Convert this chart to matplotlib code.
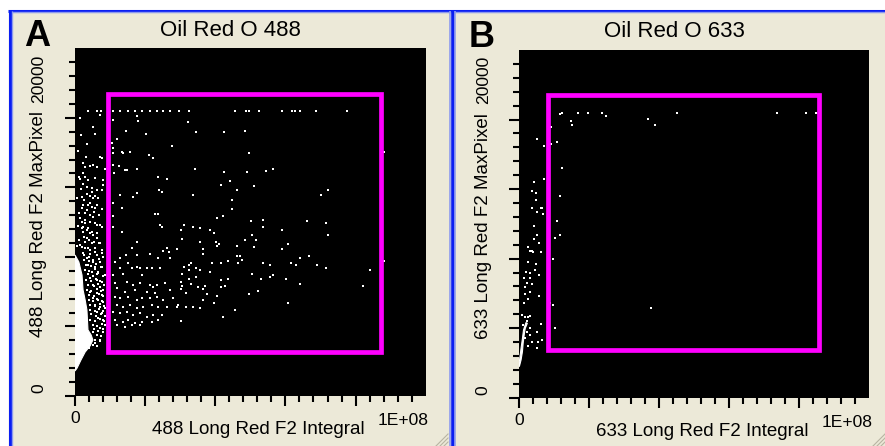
import numpy as np
import matplotlib
matplotlib.use("Agg")
import matplotlib.pyplot as plt
from matplotlib.patches import Rectangle, Polygon
from matplotlib.lines import Line2D
from matplotlib.transforms import Affine2D
from matplotlib.ticker import FixedLocator

plt.rcParams['font.family'] = ['Liberation Sans', 'DejaVu Sans']

# ---- data: x = Long Red F2 Integral (in millions), y = Long Red F2 MaxPixel ----
x_max = 100.0    # 1E+08
y_max = 20000

# panel A (488) - saturated row at the top
a_top_x = [3.8, 6.2, 7.3, 10.9, 12.8, 15.2, 17.1, 19.0, 21.4, 23.3, 25.2, 27.1,
           29.6, 32.6, 45.6, 48.9, 49.7, 52.6, 59.1, 61.9, 62.7, 64.1, 68.6, 77.6]
a_top_y = 16370

# panel A - events left of the gate
a_edge_x = [1.4, 7.1, 5.2, 5.7, 3.5, 3.1, 7.1, 7.6, 2.9, 4.3, 5.2, 6.2, 8.6, 2.2,
            2.9, 3.8, 5.7, 8.1, 1.4, 2.4, 3.3, 4.8, 6.2, 7.6, 8.1, 1.9, 4.3, 5.2,
            6.7, 2.4, 3.8, 4.8, 5.7, 7.6, 2.9, 4.3, 5.2, 1.9, 2.9, 2.4, 6.2, 7.6,
            3.8, 2.4, 4.3, 5.2, 3.3, 6.2, 2.9, 4.8, 7.1, 1.9, 3.8, 5.7, 7.6, 2.4,
            4.3, 6.2, 8.1, 3.3, 5.2, 7.1, 3.8, 5.7, 7.6, 4.8, 6.7, 8.6, 4.3, 6.2,
            7.6, 5.2, 7.1, 8.1, 4.3, 6.2, 7.6, 5.2, 6.7, 8.1, 5.7, 7.1, 8.6, 6.2,
            7.6, 6.7, 8.1, 8.6, 7.1, 5.2, 6.2, 8.1, 7.1, 5.7, 4.1]
a_edge_y = [15980, 16170, 15460, 15080, 14500, 13770, 13770, 13680, 13160, 13230,
            13290, 13200, 13040, 12810, 12580, 12430, 12520, 12430, 12470, 12200,
            12050, 11950, 11850, 11850, 12140, 11470, 11510, 11370, 11370, 10990,
            10990, 10890, 10800, 10740, 10510, 10410, 10320, 10030, 9940, 9740,
            9840, 9740, 9650, 9460, 9360, 9260, 9070, 9070, 8880, 8780, 8780, 8590,
            8500, 8500, 8400, 8210, 8150, 8110, 8020, 7920, 7830, 7730, 7540, 7440,
            7440, 7150, 7060, 6960, 6770, 6670, 6580, 6390, 6290, 6100, 6000, 5910,
            5810, 5620, 5520, 5430, 5240, 5140, 5040, 4850, 4760, 4470, 4370, 4090,
            3890, 3700, 3510, 3700, 3220, 3030, 2740]

# panel A - the dense cloud next to the saturated population
a_cloud_x = [3.4, 4.9, 5.8, 2.5, 4.4, 6.3, 2.0, 3.4, 5.3, 6.8, 1.5, 2.9, 4.4, 5.8,
             7.2, 2.0, 3.4, 4.9, 6.3, 2.5, 3.9, 5.3, 6.8, 1.5, 2.9, 4.4, 5.8, 7.7,
             2.5, 3.9,
             2.7, 3.9, 5.2, 6.9, 3.2, 4.6, 6.1, 7.4, 2.9, 4.1, 5.6, 6.6, 3.6, 5.0,
             6.3, 7.9, 3.0, 4.5, 5.9, 7.0, 3.8, 5.3, 6.7, 8.2, 3.3, 4.7, 6.2, 7.5,
             4.0, 5.5, 6.9, 8.0, 3.9, 5.1, 6.4, 7.8, 4.4, 5.8, 7.2, 8.4, 4.2, 5.6,
             6.8, 8.1, 4.5, 6.0, 7.3, 8.6, 4.4, 5.7, 7.0, 8.3, 5.0, 6.4, 7.6, 5.3,
             6.7, 7.9, 6.2, 7.3, 5.8, 7.0, 5.2, 6.3,
             0.6, 1.0, 0.8, 1.2, 0.5, 1.8, 1.0, 2.2, 0.9, 1.6]
a_cloud_y = [11620, 11710, 11520, 11270, 11080, 10980, 10790, 10700, 10600, 10410,
             10220, 10120, 10030, 9930, 9830, 9640, 9550, 9450, 9350, 9160, 8970,
             8870, 8780, 8680, 8490, 8400, 8300, 8210, 8110, 8010,
             7850, 7790, 7700, 7880, 7530, 7480, 7590, 7420, 7230, 7180, 7300, 7120,
             6990, 6900, 7010, 6930, 6680, 6620, 6740, 6590, 6400, 6330, 6450, 6360,
             6120, 6060, 6170, 6030, 5830, 5760, 5880, 5740, 5550, 5480, 5600, 5450,
             5250, 5190, 5310, 5170, 4970, 4900, 5020, 4880, 4690, 4610, 4730, 4620,
             4390, 4330, 4450, 4310, 4100, 4030, 4150, 3830, 3760, 3870, 3520, 3460,
             3240, 3180, 2950, 2880,
             11400, 10500, 9800, 9000, 8600, 11900, 12600, 13400, 14100, 15000]

# panel A - events inside / right of the gate
a_gate_x = [17.6, 18.1, 10.9, 14.5, 20.2, 12.1, 10.5, 10.9, 10.7, 13.3, 13.8, 15.7,
            21.2, 22.1, 27.6, 10.9, 12.6, 14.3, 14.7, 17.6, 11.1, 23.8, 26.1, 24.0,
            24.7, 17.6, 16.4, 10.9, 12.8, 13.3, 22.8, 23.8, 10.7, 24.2, 24.7, 10.9,
            13.3, 17.6, 16.2, 26.1, 26.9, 25.2, 12.8, 14.5, 17.6, 21.4, 23.8, 27.1,
            11.4, 15.2, 12.8, 16.2, 17.6, 18.5, 20.4, 21.9, 24.2, 10.9, 13.8, 19.0,
            11.4, 14.7, 16.6, 18.5, 21.4, 22.3, 23.3, 25.7, 11.9, 14.3, 17.1, 20.4,
            22.8, 27.1, 11.4, 12.8, 15.2, 17.6, 19.0, 21.4, 23.3, 25.2, 28.0, 29.5,
            11.9, 13.8, 15.7, 17.6, 19.5, 21.9, 23.8, 26.1, 10.9, 12.8, 14.7, 16.6,
            18.5, 20.4, 22.3, 24.7, 11.4, 13.8, 15.2, 17.1, 19.0, 21.9, 23.8, 11.9,
            14.3, 16.2, 18.5,
            32.1, 34.6, 42.6, 48.5, 49.6, 88.2, 34.1, 42.6, 49.1, 54.6, 56.6, 44.2,
            41.7, 46.1, 51.1, 33.6, 44.7, 44.7, 70.1, 72.1, 40.6, 42.1, 50.2, 53.6,
            66.1, 71.6,
            31.2, 33.6, 35.6, 30.1, 38.6, 39.6, 53.7, 59.1, 72.1, 30.6, 35.6, 40.1,
            41.1, 40.6, 48.6, 50.6, 51.7, 46.1, 51.1, 60.6, 59.1, 29.2, 36.6, 36.6,
            46.1, 47.0, 47.6, 46.6, 64.1, 66.7, 33.2, 32.6, 31.2, 39.1, 41.6, 43.6,
            53.7, 55.7, 61.7, 63.1, 69.1, 71.6, 84.2, 88.2, 34.6, 35.6, 32.6, 30.6,
            38.6, 50.6, 56.6, 55.7, 53.1, 60.1, 43.6, 41.6, 34.6, 32.6, 30.1, 33.2,
            30.6, 35.2, 37.1, 36.6, 41.6, 42.7, 30.1, 31.6, 37.6, 40.6, 49.6, 52.2,
            64.1, 82.2, 36.6, 39.6, 29.2, 31.6, 33.6, 35.6, 45.6, 60.6, 42.1, 30.1]
a_gate_y = [16110, 15840, 15880, 15270, 15080, 14770, 14540, 14250, 13960, 14060,
            13960, 14060, 13870, 13680, 14390, 13290, 13230, 13000, 13000, 13040,
            12810, 12580, 12470, 11850, 11760, 11660, 11430, 11120, 11570, 10800,
            10470, 10470, 10360, 9840, 9710, 9740,
            9460, 8880, 8500, 8500, 8300, 8340, 7920, 8110, 8110, 8150, 7920, 7920,
            7730, 7630, 7350, 7380, 7440, 7350, 7350, 7380, 7380, 6960, 7000, 6960,
            6480, 6580, 6390, 6480, 6390, 6290, 6390, 6480, 6200, 6000, 6100, 6000,
            5910, 6100, 5720, 5620, 5720, 5520, 5660, 5620, 5720, 5520, 5620, 5240,
            5240, 5140, 5240, 5040, 5140, 5240, 5140, 5140, 4850, 4760, 4810, 4660,
            4760, 4560, 4660, 4660, 4370, 4280, 4370, 4180, 4280, 4280, 4370, 4090,
            3990, 4090, 4090,
            15770, 15170, 15170, 15270, 13960, 14060, 13060, 12870, 12870, 12970,
            13060, 12370, 12160, 11850, 12060, 11550, 11260, 10760, 11550, 11850,
            10260, 10360, 10050, 10150, 10050, 9950,
            9840, 9740, 9650, 9550, 9550, 9360, 9740, 9550, 9240, 9050, 8840, 8840,
            8750, 8650, 8960, 9240, 8960, 8650, 8550, 8750, 8460, 8460, 8460, 8150,
            8060, 8060, 7840, 7630, 7940, 8060, 7650, 7540, 7440, 7650, 7650, 7750,
            7650, 7540, 7650, 7540, 7540, 7350, 7230, 7750, 7350, 7250, 7250, 7040,
            7150, 7040, 6940, 6850, 6750, 6750, 6750, 6660, 6850, 6750, 6540, 6440,
            6350, 6250, 6350, 6140, 6250, 6350, 6140, 5950, 5850, 5750, 5850, 6040,
            6440, 6350, 5540, 5350, 5140, 5140, 5140, 5040, 4950, 5350, 4550, 4330]

# panel A - outline of the saturated dense population
a_blob_x = [0, 1.1, 2.0, 2.3, 2.9, 3.4, 3.7, 4.6, 5.1, 4.3, 2.9, 1.7, 0.6, 0]
a_blob_y = [8110, 7710, 6960, 6100, 5520, 4950, 3800, 3510, 3220, 2880, 2530, 2070,
            1610, 1440]

# panel A gate
a_gate = (9.5, 2550, 87.2, 17370)   # x0, y0, x1, y1

# panel B (633)
b_top_x = [12.1, 16.7, 19.7, 23.7, 45.2, 73.8, 81.9, 84.8]
b_top_y = 16400
b_x = [11.6, 24.7, 14.7, 15.2, 9.2, 5.1, 10.7, 9.2, 7.1, 12.2, 7.1, 4.2, 3.6, 4.7,
       4.7, 11.6, 3.6, 6.2, 6.6, 5.1, 6.7, 10.7, 4.2, 36.7, 38.8, 37.6,
       5.2, 4.3, 5.6, 2.6, 3.0, 3.5, 4.0, 6.2, 10.2, 11.6, 9.7, 2.6, 4.7, 4.5,
       5.6, 1.8, 3.0, 1.4, 3.0, 2.1, 3.5, 1.6, 5.6, 3.0, 1.6, 2.6, 1.4, 8.8, 9.7,
       0.7, 1.6, 2.6, 3.0, 2.1, 1.1, 3.0, 6.2, 10.2, 2.1, 5.0, 3.0, 1.6, 3.5, 6.4,
       5.4, 2.6, 5.0]
b_y = [16300, 16210, 15920, 15710, 15590, 14880, 14690, 14600, 14500, 13200, 12580,
       12390, 11890, 11780, 11370, 11580, 10890, 10890, 10890, 10680, 10570, 10170,
       9880, 16020, 15690, 5140,
       9360, 9130, 8880, 8690, 8440, 8440, 8400, 8360, 9170, 9360, 7960, 7830, 7670,
       7350, 7060, 7250, 7150, 6870, 6870, 6580, 6520, 6390, 5870, 6100, 5950, 5680,
       5430, 5430, 5330, 4760, 4660, 4660, 4720, 4410, 4180, 3990, 4240, 4030, 3800,
       3760, 3610, 3410, 3220, 3320, 3220, 2990, 2840]
b_trail_x = [0, 0.5, 0.9, 1.1, 1.4, 1.7, 2.3, 1.9, 1.2, 0.9, 0.5, 0.2, 0]
b_trail_y = [1780, 2170, 2650, 3130, 3610, 3990, 4280, 4320, 3890, 3410, 2840, 2360, 2070]
b_gate = (8.1, 2720, 85.8, 17410)

BEIGE = '#ece9d8'
BLUE = '#0a1ef2'
LIGHT_BLUE = '#8e9bee'
MAGENTA = '#ff00ff'

fig = plt.figure(figsize=(8.85, 4.46), dpi=100)
fig.patch.set_facecolor('white')

# window chrome (pixel coordinates, y downwards)
px = Affine2D().scale(1 / 885, -1 / 446).translate(0, 1) + fig.transFigure
fig.add_artist(Rectangle((9, 11), 876, 435, transform=px, color=BEIGE, zorder=-10))
for xs, ys, c, lw in [([8, 885], [10.5, 10.5], BLUE, 2.2),
                      ([10, 885], [12.3, 12.3], LIGHT_BLUE, 1.0),
                      ([9.8, 9.8], [10, 446], BLUE, 2.2),
                      ([11.8, 11.8], [11, 446], LIGHT_BLUE, 1.0),
                      ([450.2, 450.2], [11, 446], LIGHT_BLUE, 1.2),
                      ([452.5, 452.5], [10, 446], BLUE, 2.6),
                      ([454.8, 454.8], [11, 446], LIGHT_BLUE, 1.2)]:
    fig.add_artist(Line2D(xs, ys, transform=px, color=c, lw=lw, solid_capstyle='butt'))
for gx in (448, 885):
    for d in (4, 8, 12):
        fig.add_artist(Line2D([gx - d, gx], [446, 446 - d], transform=px,
                              color='#b8b4a2', lw=0.8))


def draw_panel(rect, letter, title, xlabel, ylabel, pops, gate):
    ax = fig.add_axes(rect)
    ax.set_facecolor('black')
    ax.set_xlim(0, x_max * 1e6)
    ax.set_ylim(0, y_max)
    for s in ax.spines.values():
        s.set_visible(False)

    for kind, xs, ys in pops:
        xs = np.asarray(xs, dtype=float) * 1e6
        ys = np.asarray(ys, dtype=float)
        if kind == 'poly':
            ax.add_patch(Polygon(np.column_stack([xs, ys]), closed=True,
                                 facecolor='white', edgecolor='white', lw=0.8, zorder=2))
        else:
            if ys.size == 1:
                ys = np.full(xs.shape, float(ys))
            ax.plot(xs, ys, 's', ms=1.5, mew=0, color='white', zorder=3,
                    antialiased=False)

    x0, y0, x1, y1 = gate
    ax.add_patch(Rectangle((x0 * 1e6, y0), (x1 - x0) * 1e6, y1 - y0, fill=False,
                           edgecolor=MAGENTA, lw=3.4, joinstyle='miter', zorder=4))

    ax.xaxis.set_major_locator(FixedLocator([0, 2e7, 4e7, 6e7, 8e7]))
    ax.xaxis.set_minor_locator(FixedLocator(np.arange(0, 97e6, 4e6)))
    ax.yaxis.set_major_locator(FixedLocator([0, 4000, 8000, 12000, 16000]))
    ax.yaxis.set_minor_locator(FixedLocator(np.arange(0, 19201, 800)))
    ax.tick_params(which='both', direction='out', color='black', width=1.5,
                   labelbottom=False, labelleft=False, top=False, right=False)
    ax.tick_params(which='major', length=7.2)
    ax.tick_params(which='minor', length=4.3)

    t = ax.transAxes
    ax.text(-0.145, 1.008, letter, transform=t, fontsize=26, fontweight='bold',
            ha='left', va='baseline')
    ax.text(0.443, 1.036, title, transform=t, fontsize=16, ha='center', va='baseline')
    ax.text(0.523, -0.109, xlabel, transform=t, fontsize=13.5, ha='center', va='baseline')
    ax.text(0.0, -0.078, '0', transform=t, fontsize=12.6, ha='center', va='baseline')
    ax.text(1.009, -0.083, '1E+08', transform=t, fontsize=12.6, ha='right', va='baseline')
    ax.text(-0.103, 0.495, ylabel, transform=t, fontsize=13.5, rotation=90,
            ha='center', va='center')
    ax.text(-0.103, 0.913, '20000', transform=t, fontsize=12.6, rotation=90,
            ha='center', va='center')
    ax.text(-0.103, 0.023, '0', transform=t, fontsize=12.6, rotation=90,
            ha='center', va='center')
    return ax


draw_panel([75 / 885, 50 / 446, 350.7 / 885, 347.7 / 446], 'A', 'Oil Red O 488',
           '488 Long Red F2 Integral', '488 Long Red F2 MaxPixel',
           [('poly', a_blob_x, a_blob_y), ('pts', a_edge_x, a_edge_y),
            ('pts', a_cloud_x, a_cloud_y), ('pts', a_gate_x, a_gate_y),
            ('pts', a_top_x, a_top_y)], a_gate)

draw_panel([519.3 / 885, 48.3 / 446, 349.7 / 885, 347.7 / 446], 'B', 'Oil Red O 633',
           '633 Long Red F2 Integral', '633 Long Red F2 MaxPixel',
           [('poly', b_trail_x, b_trail_y), ('pts', b_x, b_y),
            ('pts', b_top_x, b_top_y)], b_gate)

fig.savefig('out.png', dpi=100, facecolor=fig.get_facecolor())
